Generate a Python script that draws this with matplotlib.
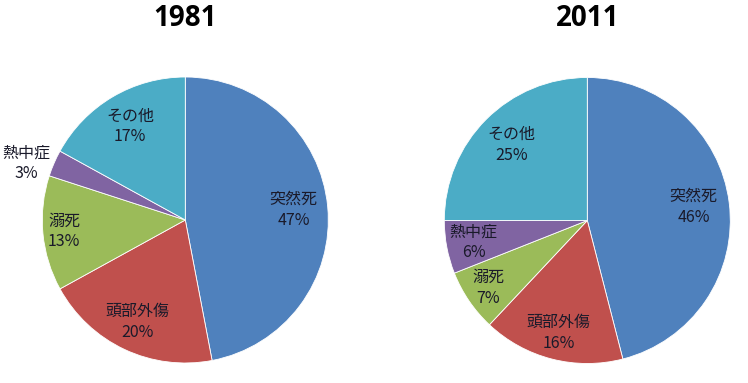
import numpy as np
import matplotlib
matplotlib.use("Agg")
import matplotlib.pyplot as plt

plt.rcParams['font.family'] = ['Noto Sans CJK JP', 'DejaVu Sans']

# data
categories = ['突然死', '頭部外傷', '溺死', '熱中症', 'その他']
years = ['1981', '2011']
values_1981 = [47, 20, 13, 3, 17]
values_2011 = [46, 16, 7, 6, 25]
colors = ['#4F81BD', '#C0504D', '#9BBB59', '#8064A2', '#4BACC6']

# label placement: radial distance (fraction of radius) and angle nudge (deg)
label_dist_1981 = [0.76, 0.79, 0.85, 1.18, 0.76]
label_shift_1981 = [0, 0, 0, 3.7, 0]
label_dist_2011 = [0.75, 0.81, 0.84, 0.81, 0.75]
label_shift_2011 = [0, 0, 0, 0, 0]

fig = plt.figure(figsize=(7.48, 3.83), dpi=100)
W, H = 748, 383
R = 143


def draw_pie(cx, cy, values, dists, shifts, title):
    ax = fig.add_axes([(cx - R) / W, (H - cy - R) / H, 2 * R / W, 2 * R / H])
    wedges, _ = ax.pie(values, colors=colors, startangle=90, counterclock=False,
                       radius=1, wedgeprops=dict(edgecolor='white', linewidth=0.6))
    ax.set_xlim(-1, 1)
    ax.set_ylim(-1, 1)
    ax.set_aspect('equal')
    ax.axis('off')
    total = sum(values)
    for w, name, v, d, s in zip(wedges, categories, values, dists, shifts):
        ang = np.deg2rad((w.theta1 + w.theta2) / 2 + s)
        x, y = d * np.cos(ang), d * np.sin(ang)
        ax.text(x, y, f"{name}\n{round(v / total * 100)}%", ha='center', va='center',
                fontsize=11.5, color='#1a1a2a', linespacing=1.3, clip_on=False)
    fig.text(cx / W, 1 - 18 / H, title, ha='center', va='center',
             fontsize=20, fontweight='bold', family=['Open Sans', 'DejaVu Sans'])


draw_pie(185.3, 220, values_1981, label_dist_1981, label_shift_1981, years[0])
draw_pie(587.3, 220.5, values_2011, label_dist_2011, label_shift_2011, years[1])

fig.savefig('out.png', dpi=100)
